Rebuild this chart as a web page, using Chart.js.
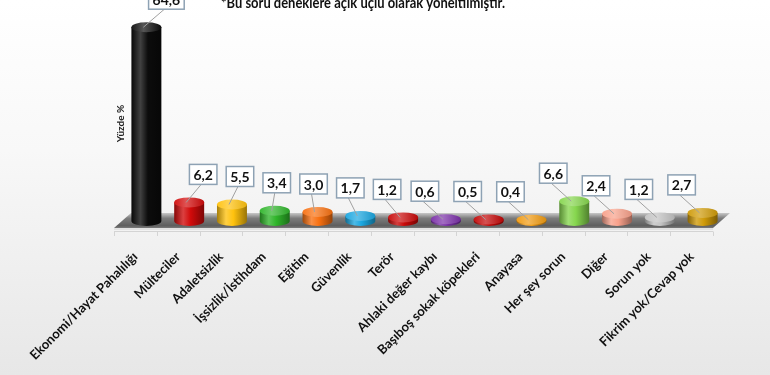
<!DOCTYPE html>
<html lang="tr">
<head>
<meta charset="utf-8">
<title>Yüzde %</title>
<script src="https://cdn.jsdelivr.net/npm/chart.js@4.4.0/dist/chart.umd.min.js"></script>
<style>
  html, body { margin: 0; padding: 0; }
  body {
    width: 770px; height: 375px; overflow: hidden;
    background: linear-gradient(180deg, #ffffff 0%, #f8f8f8 40%, #e7e7e7 100%);
  }
  canvas { display: block; }
</style>
</head>
<body>
<canvas id="chart" width="770" height="375"></canvas>
<script>
// ============================
// 1. Data
// ============================
const categories = [
  'Ekonomi/Hayat Pahalılığı', 'Mülteciler', 'Adaletsizlik', 'İşsizlik/İstihdam',
  'Eğitim', 'Güvenlik', 'Terör', 'Ahlaki değer kaybı', 'Başıboş sokak köpekleri',
  'Anayasa', 'Her şey sorun', 'Diğer', 'Sorun yok', 'Fikrim yok/Cevap yok'
];
const values = [64.6, 6.2, 5.5, 3.4, 3.0, 1.7, 1.2, 0.6, 0.5, 0.4, 6.6, 2.4, 1.2, 2.7];
const barColors = [
  '#0c0c0c', '#d10a0a', '#ffc20e', '#2fb52a', '#f87010', '#1aa6df', '#c80808',
  '#7a2fa8', '#c20606', '#f09a10', '#86d64e', '#f8a08a', '#c2c2c2', '#cf9a08'
];
const noteText = '*Bu soru deneklere açık uçlu olarak yöneltilmiştir.';
const axisTitle = 'Yüzde %';
const yMax = 65;

// ============================
// 2. Helpers
// ============================
function shade(hex, amt) {
  const n = parseInt(hex.slice(1), 16);
  const t = amt < 0 ? 0 : 255, p = Math.abs(amt);
  const r = Math.round((n >> 16) + (t - (n >> 16)) * p);
  const g = Math.round(((n >> 8) & 255) + (t - ((n >> 8) & 255)) * p);
  const b = Math.round((n & 255) + (t - (n & 255)) * p);
  return `rgb(${r},${g},${b})`;
}

const DEPTH = 17;      // floor depth (x shift)
const BAR_SHIFT = 11;  // bars sit in the middle of the floor

// ============================
// 3. Floor (3D base) plugin
// ============================
const floorPlugin = {
  id: 'floor',
  beforeDatasetsDraw(chart) {
    const ctx = chart.ctx;
    const { left, right } = chart.chartArea;
    const y0 = chart.scales.y.getPixelForValue(0);
    ctx.save();
    // axis line and category ticks under the floor
    ctx.strokeStyle = '#d4d4d4';
    ctx.lineWidth = 1;
    ctx.beginPath();
    ctx.moveTo(left, y0 + 10.5);
    ctx.lineTo(right, y0 + 10.5);
    const step = (right - left) / categories.length;
    for (let i = 0; i <= categories.length; i++) {
      const x = Math.round(left + i * step) + 0.5;
      ctx.moveTo(x, y0 + 10.5);
      ctx.lineTo(x, y0 + 15);
    }
    ctx.stroke();

    // floor slab
    const g = ctx.createLinearGradient(0, y0 - 8, 0, y0 + 7);
    g.addColorStop(0, '#c8c8c8');
    g.addColorStop(0.35, '#7c7c7c');
    g.addColorStop(0.85, '#5e5e5e');
    g.addColorStop(1, '#7a7a7a');
    ctx.fillStyle = g;
    ctx.beginPath();
    ctx.moveTo(left, y0 + 7);
    ctx.lineTo(left + DEPTH, y0 - 8);
    ctx.lineTo(right + DEPTH, y0 - 8);
    ctx.lineTo(right, y0 + 7);
    ctx.closePath();
    ctx.fill();
    // light front edge
    ctx.fillStyle = '#e2e2e2';
    ctx.fillRect(left, y0 + 7, right - left, 2);
    ctx.restore();
  }
};

// ============================
// 4. Cylinders + value boxes plugin
// ============================
const cylinderPlugin = {
  id: 'cylinders',
  afterDatasetsDraw(chart) {
    const ctx = chart.ctx;
    const meta = chart.getDatasetMeta(0);
    ctx.save();
    meta.data.forEach((bar, i) => {
      const x = bar.x + BAR_SHIFT;
      const rx = bar.width / 2;
      const ry = 5;
      const top = bar.y;
      const bottom = bar.base;
      const base = barColors[i];

      // body
      const g = ctx.createLinearGradient(x - rx, 0, x + rx, 0);
      g.addColorStop(0, shade(base, -0.35));
      g.addColorStop(0.3, shade(base, 0.22));
      g.addColorStop(0.55, base);
      g.addColorStop(1, shade(base, -0.4));
      ctx.fillStyle = g;
      ctx.beginPath();
      ctx.moveTo(x - rx, top);
      ctx.lineTo(x - rx, bottom);
      ctx.ellipse(x, bottom, rx, ry, 0, Math.PI, 0, true);
      ctx.lineTo(x + rx, top);
      ctx.closePath();
      ctx.fill();

      // top
      const gt = ctx.createLinearGradient(x - rx, 0, x + rx, 0);
      gt.addColorStop(0, shade(base, 0.05));
      gt.addColorStop(0.4, shade(base, 0.3));
      gt.addColorStop(1, shade(base, -0.1));
      ctx.fillStyle = gt;
      ctx.beginPath();
      ctx.ellipse(x, top, rx, ry, 0, 0, Math.PI * 2);
      ctx.fill();

      // value box with leader line
      const label = values[i].toFixed(1).replace('.', ',');
      ctx.font = 'bold 14px Lato';
      const bw = ctx.measureText(label).width + 8;
      const bh = 20;
      const dx = Math.max(20 - 6 * i, -21);
      const bx = x + dx;
      const by = top - 28;
      ctx.strokeStyle = '#a0a0a0';
      ctx.lineWidth = 1;
      ctx.beginPath();
      ctx.moveTo(bx - 2, by + bh / 2);
      ctx.lineTo(x - 3, top);
      ctx.stroke();

      ctx.fillStyle = '#ffffff';
      ctx.fillRect(bx - bw / 2, by - bh / 2, bw, bh);
      ctx.strokeStyle = '#8ea2b4';
      ctx.lineWidth = 1.5;
      ctx.strokeRect(bx - bw / 2, by - bh / 2, bw, bh);
      ctx.fillStyle = '#111111';
      ctx.textAlign = 'center';
      ctx.textBaseline = 'middle';
      ctx.fillText(label, bx, by + 1);
    });
    ctx.restore();
  },
  afterDraw(chart) {
    const ctx = chart.ctx;
    ctx.save();
    ctx.font = 'bold 15px Lato';
    ctx.fillStyle = '#111111';
    ctx.textAlign = 'left';
    ctx.textBaseline = 'alphabetic';
    ctx.fillText(noteText, 221, 8, 284);
    ctx.restore();
  }
};

// ============================
// 5. Chart
// ============================
new Chart(document.getElementById('chart'), {
  type: 'bar',
  data: {
    labels: categories,
    datasets: [{
      data: values,
      backgroundColor: 'rgba(0,0,0,0)',
      borderWidth: 0,
      categoryPercentage: 1,
      barPercentage: 0.7
    }]
  },
  options: {
    responsive: false,
    animation: false,
    layout: { padding: { left: 100, right: 57, top: 26, bottom: 0 } },
    plugins: { legend: { display: false }, tooltip: { enabled: false } },
    scales: {
      x: {
        grid: { display: false, drawTicks: false },
        border: { display: false },
        ticks: {
          autoSkip: false,
          maxRotation: 45,
          minRotation: 45,
          padding: 28,
          color: '#111111',
          font: { family: 'Lato', weight: 'bold', size: 13 }
        },
        afterFit: (s) => { s.height = 154; }
      },
      y: {
        min: 0,
        max: yMax,
        grid: { display: false, drawTicks: false },
        border: { display: false },
        ticks: { display: false },
        title: {
          display: true,
          text: axisTitle,
          color: '#222222',
          font: { family: 'Lato', weight: 'bold', size: 10 },
          padding: { top: 15, bottom: 0 }
        },
        afterFit: (s) => { s.width = 14; }
      }
    }
  },
  plugins: [floorPlugin, cylinderPlugin]
});
</script>
</body>
</html>
